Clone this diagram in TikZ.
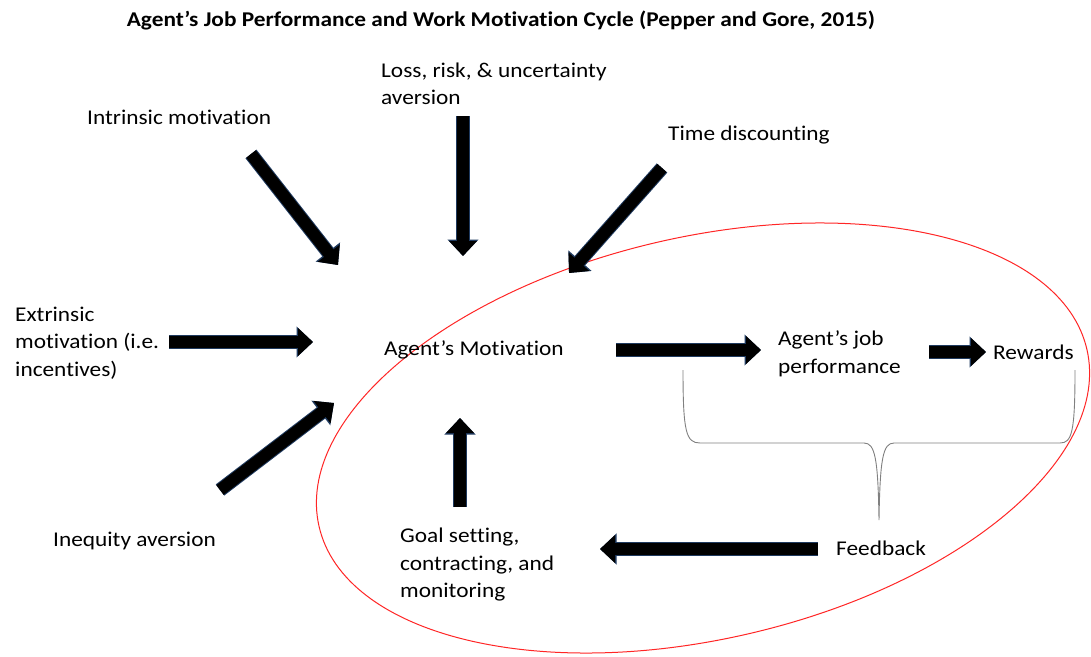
\documentclass[tikz,border=0pt]{standalone}
\usepackage{fontspec}
\setmainfont{Carlito}[FakeStretch=1.11, Ligatures=NoCommon]
\usetikzlibrary{arrows.meta}
\definecolor{navyedge}{HTML}{1F3A5F}
\tikzset{
  lbl/.style={anchor=west, inner sep=0pt, align=left, font=\fontsize{21}{27.5}\selectfont},
  blk/.style={line width=12pt, draw=black, -{Triangle[length=15pt,width=27pt]},
    preaction={draw=navyedge, line width=14pt, -{Triangle[length=16.5pt,width=30pt]}}},
  cyc/.style={draw=red!85!white, line width=1pt},
  brc/.style={draw=gray, line width=0.9pt}
}
\begin{document}
\begin{tikzpicture}[x=1pt,y=-1pt]
\useasboundingbox (0,0) rectangle (1091,656);
\fill[white] (0,0) rectangle (1091,656);
% title
\node[inner sep=0pt, font=\bfseries\fontsize{21}{25}\selectfont] (title) at (501,20) {Agent’s Job Performance and Work Motivation Cycle (Pepper and Gore, 2015)};
% cycle ellipse
\draw[cyc, rotate around={13:(703,438)}] (703,438) ellipse [x radius=394, y radius=201];
% labels
\node[lbl] (intr) at (87,117) {Intrinsic motivation};
\node[lbl] (loss) at (381,84) {Loss, risk, \& uncertainty\\aversion};
\node[lbl] (time) at (668,135) {Time discounting};
\node[lbl] (extr) at (15,343) {Extrinsic\\motivation (i.e.\\incentives)};
\node[lbl] (motiv) at (384,350) {Agent’s Motivation};
\node[lbl] (job) at (778,354) {Agent’s job\\performance};
\node[lbl] (rew) at (993,352) {Rewards};
\node[lbl] (ineq) at (53,541) {Inequity aversion};
\node[lbl] (goal) at (400,565) {Goal setting,\\contracting, and\\monitoring};
\node[lbl] (feed) at (836,548) {Feedback};
% arrow end points
\coordinate (intrA) at (251,154);
\coordinate (intrB) at (338,265);
\coordinate (lossA) at (463,116);
\coordinate (lossB) at (463,256);
\coordinate (timeA) at (662,168);
\coordinate (timeB) at (569,273);
\coordinate (extrA) at (169,342);
\coordinate (extrB) at (313,342);
\coordinate (ineqA) at (220,490);
\coordinate (ineqB) at (334,403);
\coordinate (motA) at (616,350);
\coordinate (motB) at (761,350);
\coordinate (jobA) at (929,352);
\coordinate (jobB) at (986,352);
\coordinate (goalA) at (460,507);
\coordinate (goalB) at (460,418);
\coordinate (feedA) at (818,549);
\coordinate (feedB) at (600,549);
% block arrows
\draw[blk] (intrA) -- (intrB);
\draw[blk] (lossA) -- (lossB);
\draw[blk] (timeA) -- (timeB);
\draw[blk] (extrA) -- (extrB);
\draw[blk] (ineqA) -- (ineqB);
\draw[blk] (motA) -- (motB);
\draw[blk] (jobA) -- (jobB);
\draw[blk] (goalA) -- (goalB);
\draw[blk] (feedA) -- (feedB);
% brace
\coordinate (brL) at (683,370);
\coordinate (brR) at (1075,370);
\coordinate (brT) at (879,520);
\draw[brc] (brL) .. controls (683,432) and (686,443) .. (700,443) -- (864,443)
  .. controls (875,443) and (878,458) .. (brT)
  .. controls (880,458) and (883,443) .. (894,443) -- (1060,443)
  .. controls (1072,443) and (1075,432) .. (brR);
\end{tikzpicture}
\end{document}
